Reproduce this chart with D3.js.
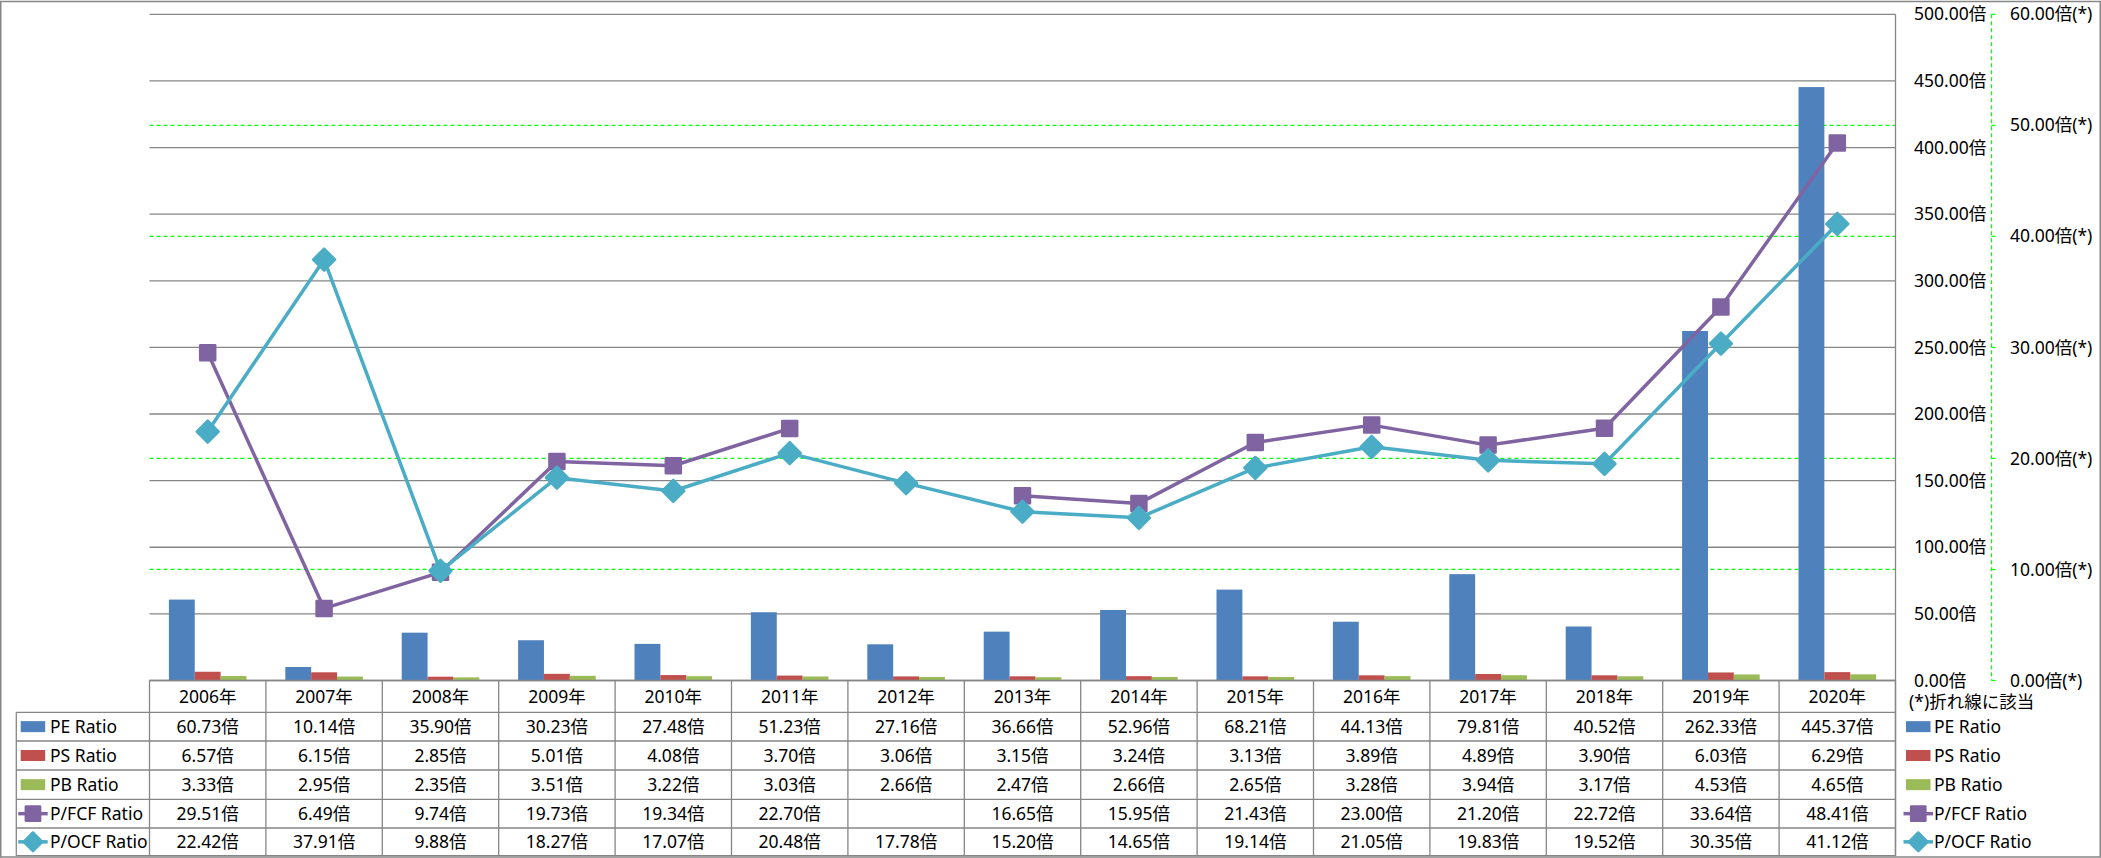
<!DOCTYPE html>
<html><head><meta charset="utf-8">
<script src="https://cdn.jsdelivr.net/npm/d3@7"></script>
<style>
html,body{margin:0;padding:0;background:#fff;}
svg{display:block;font-family:'Noto Sans','Noto Sans CJK JP',sans-serif;}
</style></head>
<body>
<script>
const years = ["2006年","2007年","2008年","2009年","2010年","2011年","2012年","2013年","2014年","2015年","2016年","2017年","2018年","2019年","2020年"];
const peRatio = [60.73,10.14,35.90,30.23,27.48,51.23,27.16,36.66,52.96,68.21,44.13,79.81,40.52,262.33,445.37];
const psRatio = [6.57,6.15,2.85,5.01,4.08,3.70,3.06,3.15,3.24,3.13,3.89,4.89,3.90,6.03,6.29];
const pbRatio = [3.33,2.95,2.35,3.51,3.22,3.03,2.66,2.47,2.66,2.65,3.28,3.94,3.17,4.53,4.65];
const pfcfRatio = [29.51,6.49,9.74,19.73,19.34,22.70,null,16.65,15.95,21.43,23.00,21.20,22.72,33.64,48.41];
const pocfRatio = [22.42,37.91,9.88,18.27,17.07,20.48,17.78,15.20,14.65,19.14,21.05,19.83,19.52,30.35,41.12];
const seriesNames = ["PE Ratio","PS Ratio","PB Ratio","P/FCF Ratio","P/OCF Ratio"];
const primaryTicks = [0,50,100,150,200,250,300,350,400,450,500];
const secondaryTicks = [0,10,20,30,40,50,60];
const footnote = "(*)折れ線に該当";

const W = 2101, H = 858;
const colors = ["#4F81BD","#C0504D","#9BBB59","#8064A2","#4BACC6"];
const plotL = 149.5, plotR = 1895.5, plotT = 14.3, plotB = 680.5;
const rowLines = [712.3, 741, 770, 799.3, 828, 855.7];
const tableL = 16.3;
const FS = 17.5;

const svg = d3.select("body").append("svg").attr("width", W).attr("height", H);

const x = d3.scaleBand().domain(years).range([plotL, plotR]);
const xs = d3.scaleBand().domain([0,1,2]).range([0, x.bandwidth()]).paddingOuter(0.75);
const y = d3.scaleLinear().domain([0,500]).range([plotB, plotT]);
const y2 = d3.scaleLinear().domain([0,60]).range([plotB, plotT]);

// outer border
svg.append("rect").attr("x",0.75).attr("y",1.5).attr("width",W-1.5).attr("height",H-2.5)
  .attr("fill","none").attr("stroke","#868686").attr("stroke-width",1.5);

// secondary gridlines (green dashed) — skipped where they coincide with primary gridlines
const primaryPixels = primaryTicks.map(d => y(d));
svg.append("g").selectAll("line")
  .data(secondaryTicks.filter(d => !primaryPixels.some(p => Math.abs(p - y2(d)) < 1)))
  .join("line")
  .attr("x1", plotL).attr("x2", plotR)
  .attr("y1", d => y2(d)).attr("y2", d => y2(d))
  .attr("stroke", "#00FF00").attr("stroke-width", 1.2).attr("stroke-dasharray", "4,3");

// primary gridlines
svg.append("g").selectAll("line").data(primaryTicks).join("line")
  .attr("x1", plotL).attr("x2", plotR)
  .attr("y1", d => y(d)).attr("y2", d => y(d))
  .attr("stroke", "#868686").attr("stroke-width", 1.3);

// plot right border (extends through table)
svg.append("line").attr("x1", plotR).attr("x2", plotR).attr("y1", plotT).attr("y2", rowLines[rowLines.length-1])
  .attr("stroke","#868686").attr("stroke-width",1.3);

// bars
const barSeries = [peRatio, psRatio, pbRatio];
barSeries.forEach((vals, si) => {
  svg.append("g").selectAll("rect").data(vals).join("rect")
    .attr("x", (d,i) => x(years[i]) + xs(si))
    .attr("width", xs.bandwidth())
    .attr("y", d => y(d))
    .attr("height", d => plotB - y(d))
    .attr("fill", colors[si]);
});

// lines
function drawMarker(g, type, cx, cy, color, scale) {
  scale = scale || 1;
  if (type === "square") {
    const s = 15 * scale;
    g.append("rect").attr("x", cx - s/2).attr("y", cy - s/2).attr("width", s).attr("height", s)
      .attr("fill", color).attr("stroke", color).attr("stroke-width", 2.5).attr("stroke-linejoin","round");
  } else {
    const r = 11 * scale;
    g.append("path").attr("d", `M${cx},${cy-r}L${cx+r},${cy}L${cx},${cy+r}L${cx-r},${cy}Z`)
      .attr("fill", color).attr("stroke", color).attr("stroke-width", 2.5).attr("stroke-linejoin","round");
  }
}
const lineSeries = [{vals: pfcfRatio, color: colors[3], marker: "square"}, {vals: pocfRatio, color: colors[4], marker: "diamond"}];
lineSeries.forEach(s => {
  const g = svg.append("g");
  const line = d3.line().defined(d => d != null)
    .x((d,i) => x(years[i]) + x.bandwidth()/2)
    .y(d => y2(d));
  g.append("path").datum(s.vals).attr("d", line).attr("fill","none")
    .attr("stroke", s.color).attr("stroke-width", 3.5).attr("stroke-linejoin","round");
  s.vals.forEach((d,i) => {
    if (d == null) return;
    drawMarker(g, s.marker, x(years[i]) + x.bandwidth()/2, y2(d), s.color);
  });
});

// primary axis labels (right of plot)
svg.append("g").selectAll("text").data(primaryTicks).join("text")
  .attr("x", 1914).attr("y", d => y(d)).attr("dy","0.35em")
  .attr("font-size", FS).attr("fill","#000")
  .text(d => d3.format(".2f")(d) + "倍");

// secondary axis line + ticks
const ax2 = 1991.5;
svg.append("line").attr("x1", ax2).attr("x2", ax2).attr("y1", plotT).attr("y2", plotB)
  .attr("stroke","#00FF00").attr("stroke-width",1.2).attr("stroke-dasharray","4,3");
svg.append("g").selectAll("line").data(secondaryTicks).join("line")
  .attr("x1", ax2).attr("x2", ax2 + 4).attr("y1", d => y2(d)).attr("y2", d => y2(d))
  .attr("stroke","#00FF00").attr("stroke-width",1.2);
svg.append("g").selectAll("text").data(secondaryTicks).join("text")
  .attr("x", 2010).attr("y", d => y2(d)).attr("dy","0.35em")
  .attr("font-size", FS).attr("fill","#000")
  .text(d => d3.format(".2f")(d) + "倍(*)");

svg.append("text").attr("x", 1909).attr("y", 702).attr("dy","0.35em")
  .attr("font-size", FS).attr("fill","#000").text(footnote);

// data table
const tg = svg.append("g");
const tableStroke = "#868686";
tg.append("line").attr("x1", plotL).attr("x2", plotR).attr("y1", plotB).attr("y2", plotB)
  .attr("stroke", tableStroke).attr("stroke-width", 1.3);
rowLines.forEach(ry => {
  tg.append("line").attr("x1", tableL).attr("x2", plotR).attr("y1", ry).attr("y2", ry)
    .attr("stroke", tableStroke).attr("stroke-width", 1.3);
});
const colEdges = years.map(yr => x(yr)).concat([plotR]);
colEdges.forEach(cx => {
  tg.append("line").attr("x1", cx).attr("x2", cx).attr("y1", plotB).attr("y2", rowLines[rowLines.length-1])
    .attr("stroke", tableStroke).attr("stroke-width", 1.3);
});
tg.append("line").attr("x1", tableL).attr("x2", tableL).attr("y1", rowLines[0]).attr("y2", rowLines[rowLines.length-1])
  .attr("stroke", tableStroke).attr("stroke-width", 1.3);

tg.selectAll("text.yr").data(years).join("text").attr("class","yr")
  .attr("x", d => x(d) + x.bandwidth()/2).attr("y", (plotB + rowLines[0])/2).attr("dy","0.35em")
  .attr("text-anchor","middle").attr("font-size", FS).text(d => d);

const allSeries = [peRatio, psRatio, pbRatio, pfcfRatio, pocfRatio];
allSeries.forEach((vals, si) => {
  const cy = (rowLines[si] + rowLines[si+1]) / 2;
  tg.append("g").selectAll("text").data(vals).join("text")
    .attr("x", (d,i) => x(years[i]) + x.bandwidth()/2).attr("y", cy).attr("dy","0.35em")
    .attr("text-anchor","middle").attr("font-size", FS)
    .text(d => d == null ? "" : d3.format(".2f")(d) + "倍");
});

function legendKey(g, si, kx, cy) {
  if (si < 3) {
    g.append("rect").attr("x", kx).attr("y", cy - 5.5).attr("width", 24.5).attr("height", 11).attr("fill", colors[si]);
  } else {
    g.append("line").attr("x1", kx - 2.5).attr("x2", kx + 27).attr("y1", cy).attr("y2", cy)
      .attr("stroke", colors[si]).attr("stroke-width", 3.5);
    drawMarker(g, si === 3 ? "square" : "diamond", kx + 12.25, cy, colors[si], si === 3 ? 0.95 : 0.85);
  }
}
seriesNames.forEach((name, si) => {
  const cy = (rowLines[si] + rowLines[si+1]) / 2;
  legendKey(tg, si, 20.7, cy);
  tg.append("text").attr("x", 50).attr("y", cy).attr("dy","0.35em").attr("font-size", FS).text(name);
  legendKey(svg, si, 1906, cy);
  svg.append("text").attr("x", 1934).attr("y", cy).attr("dy","0.35em").attr("font-size", FS).text(name);
});
</script>
</body></html>
